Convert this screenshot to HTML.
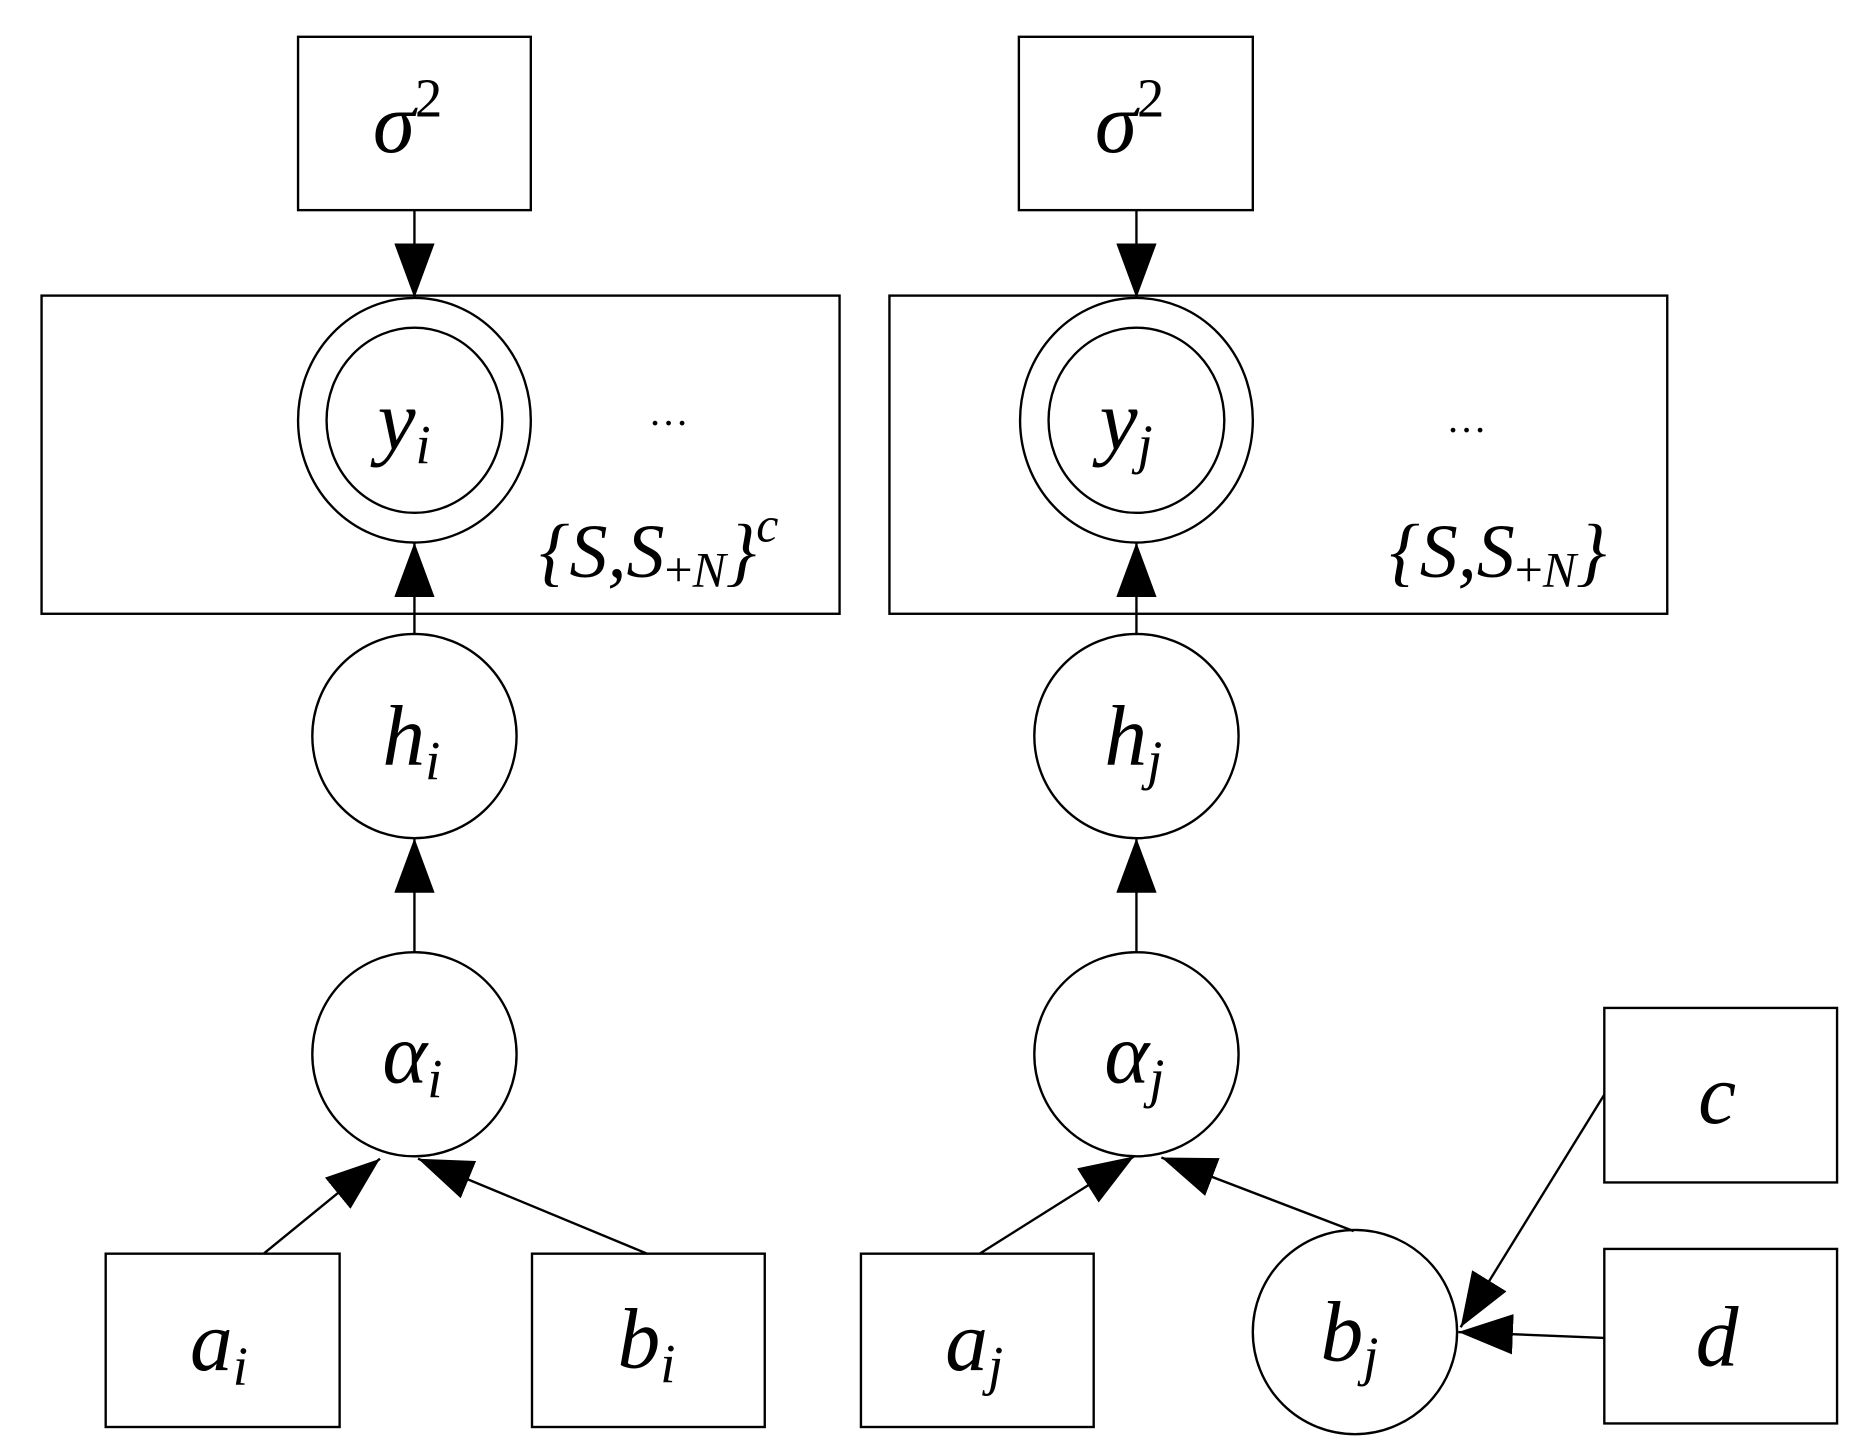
<!DOCTYPE html>
<html><head><meta charset="utf-8"><style>
html,body{margin:0;padding:0;background:#fff;}
svg{display:block;}
text{font-family:"Times New Roman","Liberation Serif",serif;font-style:italic;fill:#000;}
.n{font-style:normal;}
</style></head><body>
<svg width="1862" height="1446" viewBox="0 0 1568 1218" preserveAspectRatio="none" xmlns="http://www.w3.org/2000/svg">
<defs>
<marker id="ah" markerUnits="userSpaceOnUse" markerWidth="48" markerHeight="34" refX="46" refY="17" orient="auto">
<path d="M0,0 L46,17 L0,34 Z" fill="#000"/>
</marker>
</defs>
<g fill="none" stroke="#000" stroke-width="2">
<rect x="251" y="31" width="196" height="146"/>
<rect x="858" y="31" width="197" height="146"/>
<rect x="35" y="249" width="672" height="268"/>
<rect x="749" y="249" width="655" height="268"/>
<ellipse cx="349" cy="354" rx="98" ry="103"/>
<ellipse cx="349" cy="354" rx="74" ry="78"/>
<ellipse cx="957" cy="354" rx="98" ry="103"/>
<ellipse cx="957" cy="354" rx="74" ry="78"/>
<ellipse cx="349" cy="620" rx="86" ry="86"/>
<ellipse cx="957" cy="620" rx="86" ry="86"/>
<ellipse cx="349" cy="888" rx="86" ry="86"/>
<ellipse cx="957" cy="888" rx="86" ry="86"/>
<rect x="89" y="1056" width="197" height="146"/>
<rect x="448" y="1056" width="196" height="146"/>
<rect x="725" y="1056" width="196" height="146"/>
<ellipse cx="1141" cy="1122" rx="86" ry="86"/>
<rect x="1351" y="849" width="196" height="147"/>
<rect x="1351" y="1052" width="196" height="147"/>
<line x1="349" y1="177" x2="349" y2="251" marker-end="url(#ah)"/>
<line x1="957" y1="177" x2="957" y2="251" marker-end="url(#ah)"/>
<line x1="349" y1="535" x2="349" y2="457" marker-end="url(#ah)"/>
<line x1="957" y1="535" x2="957" y2="457" marker-end="url(#ah)"/>
<line x1="349" y1="803" x2="349" y2="706" marker-end="url(#ah)"/>
<line x1="957" y1="803" x2="957" y2="706" marker-end="url(#ah)"/>
<line x1="222" y1="1056" x2="320" y2="976" marker-end="url(#ah)"/>
<line x1="545" y1="1056" x2="352" y2="976" marker-end="url(#ah)"/>
<line x1="825" y1="1056" x2="955" y2="974" marker-end="url(#ah)"/>
<line x1="1140" y1="1037" x2="978" y2="975" marker-end="url(#ah)"/>
<line x1="1351" y1="922" x2="1230" y2="1118" marker-end="url(#ah)"/>
<line x1="1351" y1="1127" x2="1228" y2="1122" marker-end="url(#ah)"/>
</g>
<g font-size="72">
<text x="314" y="128">σ<tspan class="n" font-size="46" dy="-30">2</tspan></text>
<text x="922" y="128">σ<tspan class="n" font-size="46" dy="-30">2</tspan></text>
<text x="318" y="378">y<tspan font-size="46" dy="12">i</tspan></text>
<text x="926" y="378">y<tspan font-size="46" dy="12">j</tspan></text>
<text x="322" y="644">h<tspan font-size="46" dy="12">i</tspan></text>
<text x="930" y="644">h<tspan font-size="46" dy="12">j</tspan></text>
<text x="322" y="912">α<tspan font-size="46" dy="12">i</tspan></text>
<text x="930" y="912">α<tspan font-size="46" dy="12">j</tspan></text>
<text x="160" y="1154">a<tspan font-size="46" dy="12">i</tspan></text>
<text x="520" y="1152">b<tspan font-size="46" dy="12">i</tspan></text>
<text x="796" y="1154">a<tspan font-size="46" dy="12">j</tspan></text>
<text x="1112" y="1146">b<tspan font-size="46" dy="12">j</tspan></text>
<text x="1430" y="946">c</text>
<text x="1428" y="1150">d</text>
</g>
<text class="n" x="546" y="358" font-size="34">…</text>
<text class="n" x="1218" y="364" font-size="34">…</text>
<text x="454" y="486" font-size="64">{S,S<tspan class="n" font-size="42" dy="8">+</tspan><tspan font-size="42">N</tspan><tspan dy="-8">}</tspan><tspan font-size="42" dy="-30">c</tspan></text>
<text x="1170" y="486" font-size="64">{S,S<tspan class="n" font-size="42" dy="8">+</tspan><tspan font-size="42">N</tspan><tspan dy="-8">}</tspan></text>
</svg>
</body></html>
